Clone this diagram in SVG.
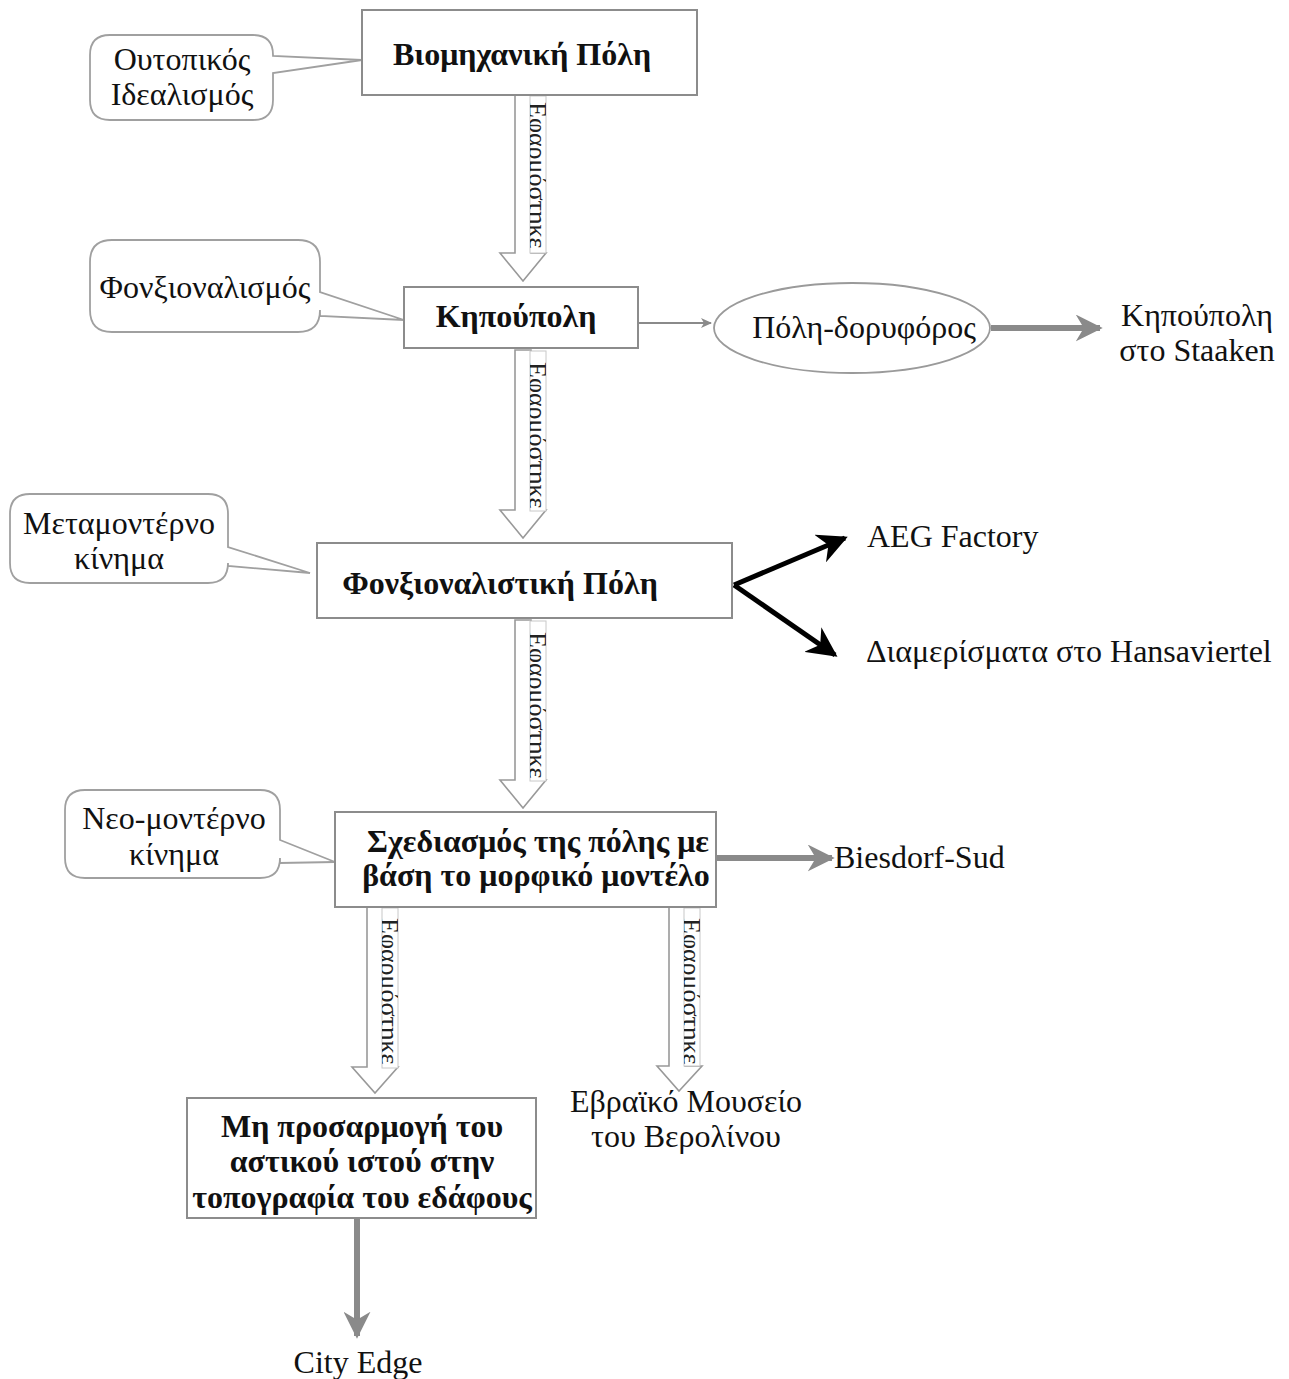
<svg xmlns="http://www.w3.org/2000/svg" width="1289" height="1379" viewBox="0 0 1289 1379">
  <style>
    .box { fill: #ffffff; stroke: #8c8c8c; stroke-width: 2; }
    .callout { fill: #ffffff; stroke: #a0a0a0; stroke-width: 1.8; }
    .block { fill: #ffffff; stroke: #999999; stroke-width: 1.6; }
    .frame { fill: #ffffff; stroke: #c8c8c8; stroke-width: 1; }
    .t { font-family: "Liberation Serif", "Times New Roman", serif; fill: #111111; }
    .reg { font-size: 32px; }
    .bold { font-size: 32px; font-weight: bold; }
    .vert { font-family: "Liberation Serif", "Times New Roman", serif; font-size: 26px; fill: #222222; }
    .gray { stroke: #8a8a8a; fill: none; }
    .black { stroke: #000000; fill: none; }
  </style>
  <defs>
    <marker id="headThin" viewBox="0 0 12 12" refX="10" refY="6" markerWidth="12" markerHeight="12" markerUnits="userSpaceOnUse" orient="auto">
      <path d="M0,1 L11,6 L0,11 L3,6 Z" fill="#8a8a8a"/>
    </marker>
    <marker id="headGray" viewBox="0 0 10 10" refX="9" refY="5" markerWidth="4.5" markerHeight="4.5" orient="auto">
      <path d="M0,0 L10,5 L0,10 L3,5 Z" fill="#8a8a8a"/>
    </marker>
    <marker id="headBlack" viewBox="0 0 10 10" refX="9" refY="5" markerWidth="6" markerHeight="6" orient="auto">
      <path d="M0,0 L10,5 L0,10 L3,5 Z" fill="#000000"/>
    </marker>
    <clipPath id="clip1"><rect x="530" y="96" width="16" height="157"/></clipPath>
    <clipPath id="clip2"><rect x="530" y="351" width="16" height="160"/></clipPath>
    <clipPath id="clip3"><rect x="530" y="621" width="16" height="160"/></clipPath>
    <clipPath id="clip4"><rect x="382" y="908" width="16" height="160"/></clipPath>
    <clipPath id="clip5"><rect x="684" y="908" width="16" height="158"/></clipPath>
  </defs>

  <!-- connectors -->
  <g id="connectors">
    <!-- block arrows labelled "Εφαρμόστηκε" -->
    <g id="apply1">
      <path class="block" d="M515,95 V253 H500 L523,281 L546,253 H531 V95 Z"/>
      <rect class="frame" x="530" y="96" width="16" height="157"/>
      <g clip-path="url(#clip1)">
        <text class="vert" transform="translate(529,102) rotate(90)">Εφαρμόστηκε</text>
      </g>
    </g>
    <g id="apply2">
      <path class="block" d="M515,350 V510 H500 L523,538 L546,510 H531 V350 Z"/>
      <rect class="frame" x="530" y="351" width="16" height="160"/>
      <g clip-path="url(#clip2)">
        <text class="vert" transform="translate(529,362) rotate(90)">Εφαρμόστηκε</text>
      </g>
    </g>
    <g id="apply3">
      <path class="block" d="M515,620 V780 H500 L523,808 L546,780 H531 V620 Z"/>
      <rect class="frame" x="530" y="621" width="16" height="160"/>
      <g clip-path="url(#clip3)">
        <text class="vert" transform="translate(529,632) rotate(90)">Εφαρμόστηκε</text>
      </g>
    </g>
    <g id="apply4">
      <path class="block" d="M367,907 V1067 H352 L375,1093 L398,1067 H383 V907 Z"/>
      <rect class="frame" x="382" y="908" width="16" height="160"/>
      <g clip-path="url(#clip4)">
        <text class="vert" transform="translate(381,918) rotate(90)">Εφαρμόστηκε</text>
      </g>
    </g>
    <g id="apply5">
      <path class="block" d="M669,907 V1066 H657 L679,1091 L702,1066 H685 V907 Z"/>
      <rect class="frame" x="684" y="908" width="16" height="158"/>
      <g clip-path="url(#clip5)">
        <text class="vert" transform="translate(683,918) rotate(90)">Εφαρμόστηκε</text>
      </g>
    </g>

    <!-- Κηπούπολη -> Πόλη-δορυφόρος -->
    <line class="gray" x1="639" y1="323" x2="711" y2="323" stroke-width="2" marker-end="url(#headThin)"/>
    <!-- Πόλη-δορυφόρος -> Κηπούπολη στο Staaken -->
    <line class="gray" x1="991" y1="328" x2="1100" y2="328" stroke-width="6" marker-end="url(#headGray)"/>
    <!-- Φονξιοναλιστική Πόλη -> examples -->
    <line class="black" x1="734" y1="585" x2="845" y2="538" stroke-width="5" marker-end="url(#headBlack)"/>
    <line class="black" x1="734" y1="585" x2="835" y2="655" stroke-width="5" marker-end="url(#headBlack)"/>
    <!-- Σχεδιασμός -> Biesdorf-Sud -->
    <line class="gray" x1="717" y1="858" x2="832" y2="858" stroke-width="6" marker-end="url(#headGray)"/>
    <!-- Μη προσαρμογή -> City Edge -->
    <line class="gray" x1="357" y1="1219" x2="357" y2="1336" stroke-width="6" marker-end="url(#headGray)"/>
  </g>

  <!-- callouts -->
  <g id="callout-utopian">
    <path class="callout" d="M110,35 H253 Q273,35 273,55 V56 L362,60 L273,73 V100 Q273,120 253,120 H110 Q90,120 90,100 V55 Q90,35 110,35 Z"/>
    <text class="t reg" x="182" y="70" text-anchor="middle">Ουτοπικός</text>
    <text class="t reg" x="182" y="105" text-anchor="middle">Ιδεαλισμός</text>
  </g>
  <g id="callout-functionalism">
    <path class="callout" d="M112,240 H298 Q320,240 320,262 V292 L404,320 L320,316 V310 Q320,332 298,332 H112 Q90,332 90,310 V262 Q90,240 112,240 Z"/>
    <text class="t reg" x="205" y="298" text-anchor="middle">Φονξιοναλισμός</text>
  </g>
  <g id="callout-postmodern">
    <path class="callout" d="M30,494 H208 Q228,494 228,514 V547 L310,573 L228,566 V563 Q228,583 208,583 H30 Q10,583 10,563 V514 Q10,494 30,494 Z"/>
    <text class="t reg" x="119" y="534" text-anchor="middle">Μεταμοντέρνο</text>
    <text class="t reg" x="119" y="569" text-anchor="middle">κίνημα</text>
  </g>
  <g id="callout-neomodern">
    <path class="callout" d="M85,790 H260 Q280,790 280,810 V840 L335,862 L280,863 V858 Q280,878 260,878 H85 Q65,878 65,858 V810 Q65,790 85,790 Z"/>
    <text class="t reg" x="174" y="829" text-anchor="middle">Νεο-μοντέρνο</text>
    <text class="t reg" x="174" y="865" text-anchor="middle">κίνημα</text>
  </g>

  <!-- main flow nodes -->
  <g id="node-industrial">
    <rect class="box" x="362" y="10" width="335" height="85"/>
    <text class="t bold" x="522" y="65" text-anchor="middle">Βιομηχανική Πόλη</text>
  </g>
  <g id="node-garden">
    <rect class="box" x="404" y="287" width="234" height="61"/>
    <text class="t bold" x="516" y="327" text-anchor="middle">Κηπούπολη</text>
  </g>
  <g id="node-satellite">
    <ellipse cx="852" cy="328" rx="138" ry="45" fill="#ffffff" stroke="#9a9a9a" stroke-width="1.8"/>
    <text class="t reg" x="864" y="338" text-anchor="middle">Πόλη-δορυφόρος</text>
  </g>
  <g id="node-staaken">
    <text class="t reg" x="1197" y="326" text-anchor="middle">Κηπούπολη</text>
    <text class="t reg" x="1197" y="361" text-anchor="middle">στο Staaken</text>
  </g>
  <g id="node-functional">
    <rect class="box" x="317" y="543" width="415" height="75"/>
    <text class="t bold" x="500" y="594" text-anchor="middle">Φονξιοναλιστική Πόλη</text>
  </g>
  <g id="node-aeg">
    <text class="t reg" x="867" y="547">AEG Factory</text>
  </g>
  <g id="node-hansaviertel">
    <text class="t reg" x="866" y="662">Διαμερίσματα στο Hansaviertel</text>
  </g>
  <g id="node-morphic">
    <rect class="box" x="335" y="812" width="381" height="95"/>
    <text class="t bold" x="538" y="852" text-anchor="middle">Σχεδιασμός της πόλης με</text>
    <text class="t bold" x="536" y="886" text-anchor="middle">βάση το μορφικό μοντέλο</text>
  </g>
  <g id="node-biesdorf">
    <text class="t reg" x="834" y="868">Biesdorf-Sud</text>
  </g>
  <g id="node-topography">
    <rect class="box" x="187" y="1098" width="349" height="120"/>
    <text class="t bold" x="362" y="1137" text-anchor="middle">Μη προσαρμογή του</text>
    <text class="t bold" x="362" y="1172" text-anchor="middle">αστικού ιστού στην</text>
    <text class="t bold" x="362" y="1208" text-anchor="middle">τοπογραφία του εδάφους</text>
  </g>
  <g id="node-jewish-museum">
    <text class="t reg" x="686" y="1112" text-anchor="middle">Εβραϊκό Μουσείο</text>
    <text class="t reg" x="686" y="1147" text-anchor="middle">του Βερολίνου</text>
  </g>
  <g id="node-city-edge">
    <text class="t reg" x="358" y="1373" text-anchor="middle">City Edge</text>
  </g>
</svg>
